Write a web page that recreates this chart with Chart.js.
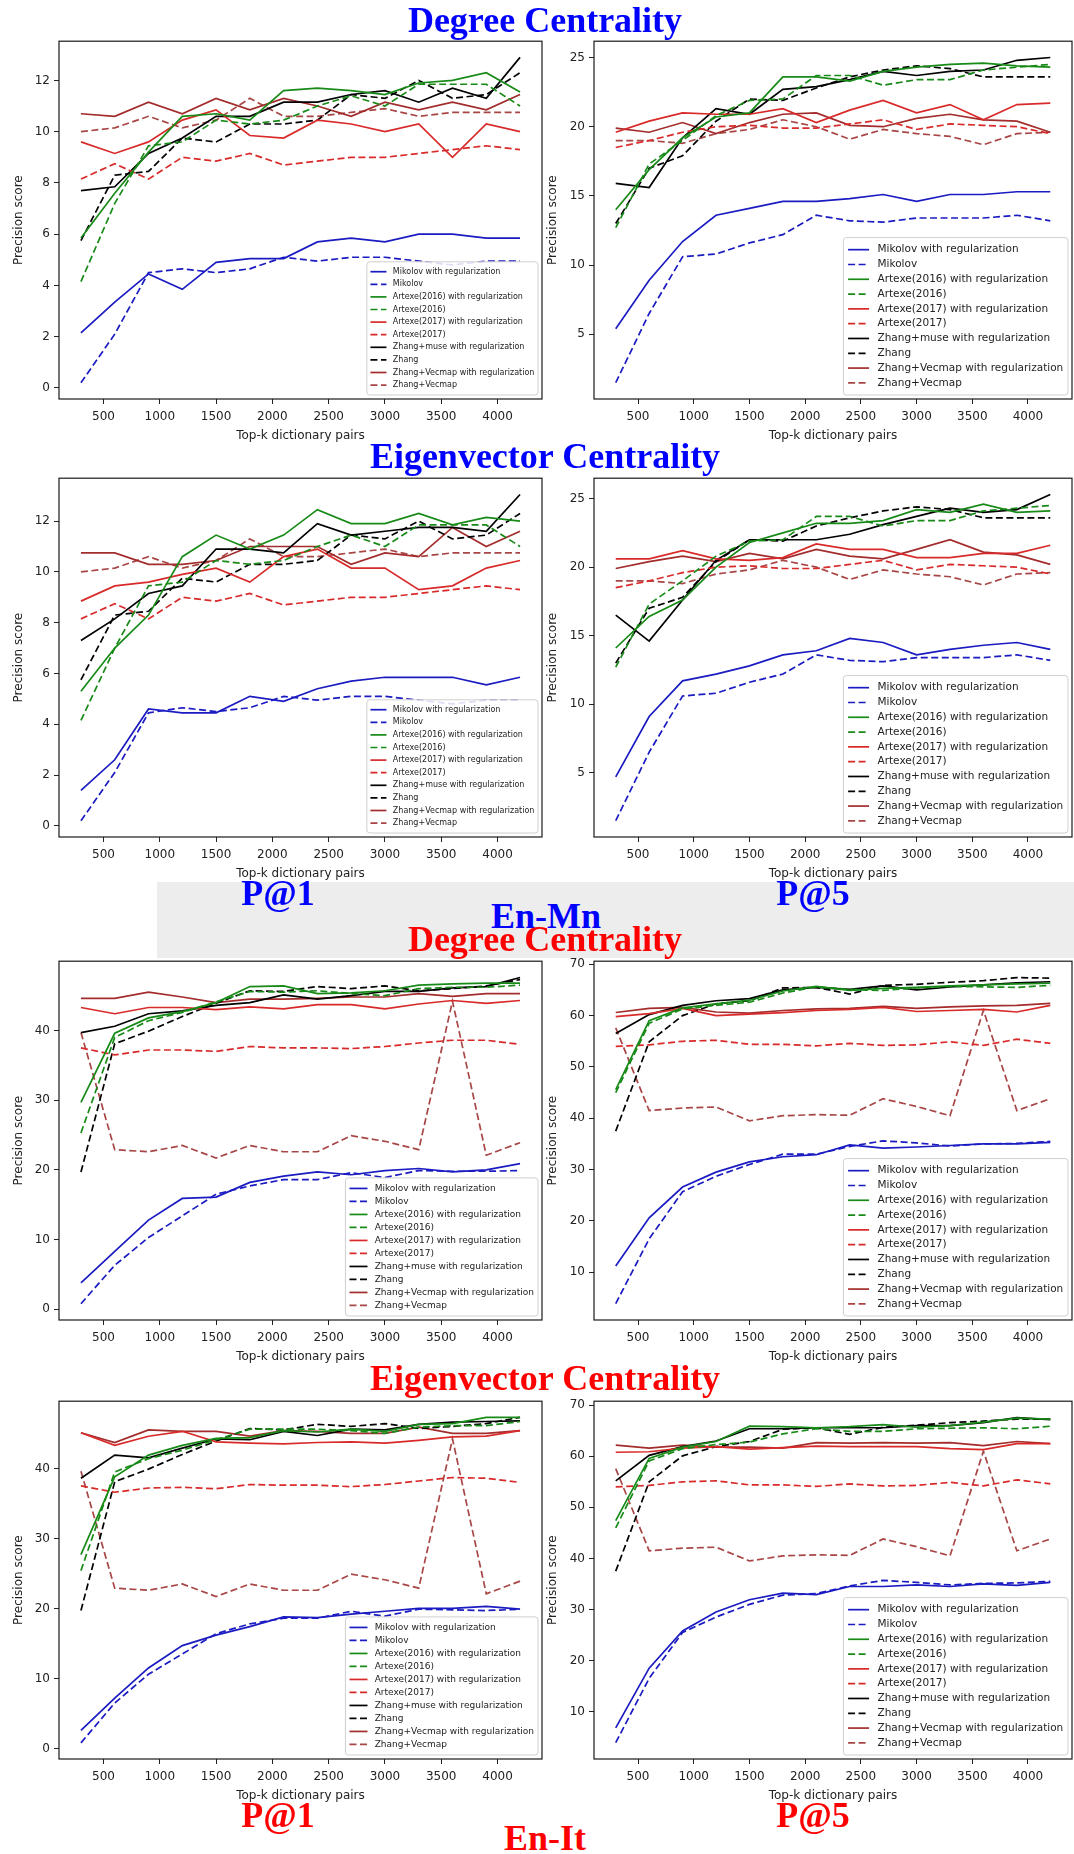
<!DOCTYPE html>
<html>
<head>
<meta charset="utf-8">
<script src="https://cdn.jsdelivr.net/npm/chart.js@4.4.0/dist/chart.umd.min.js"></script>
<style>
body { margin: 0; background: #fff; width: 1074px; height: 1854px; position: relative; overflow: hidden; }
canvas { position: absolute; z-index: 1; }
.ttl { position: absolute; z-index: 2; font-family: "Liberation Serif", serif; font-weight: bold; font-size: 36px;
       line-height: 36px; white-space: nowrap; transform: translateX(-50%); }
.blue { color: #0000ff; }
.red { color: #ff0000; }
.wm { position: absolute; z-index: 0; background: #ededed; }
</style>
</head>
<body>
<div class="wm" style="left:157px;top:882px;width:917px;height:76px"></div>

<div class="ttl blue" style="left:545px;top:2px">Degree Centrality</div>
<div class="ttl blue" style="left:545px;top:438px">Eigenvector Centrality</div>
<div class="ttl blue" style="left:278px;top:875px">P@1</div>
<div class="ttl blue" style="left:813px;top:875px">P@5</div>
<div class="ttl blue" style="left:546px;top:898px">En-Mn</div>
<div class="ttl red" style="left:545px;top:921px">Degree Centrality</div>
<div class="ttl red" style="left:545px;top:1360px">Eigenvector Centrality</div>
<div class="ttl red" style="left:278px;top:1797px">P@1</div>
<div class="ttl red" style="left:813px;top:1797px">P@5</div>
<div class="ttl red" style="left:545px;top:1820px">En-It</div>

<canvas id="c1" width="545" height="414" style="left:0;top:30px"></canvas>
<canvas id="c2" width="537" height="414" style="left:537px;top:30px"></canvas>
<canvas id="c3" width="545" height="415" style="left:0;top:467px"></canvas>
<canvas id="c4" width="537" height="415" style="left:537px;top:467px"></canvas>
<canvas id="c5" width="545" height="415" style="left:0;top:950px"></canvas>
<canvas id="c6" width="537" height="415" style="left:537px;top:950px"></canvas>
<canvas id="c7" width="545" height="414" style="left:0;top:1390px"></canvas>
<canvas id="c8" width="537" height="414" style="left:537px;top:1390px"></canvas>

<script>
// x values: top-k dictionary pairs
let topK = [300, 600, 900, 1200, 1500, 1800, 2100, 2400, 2700, 3000, 3300, 3600, 3900, 4200];
let xTicks = [500, 1000, 1500, 2000, 2500, 3000, 3500, 4000];
let yTicksP1Mn = [0, 2, 4, 6, 8, 10, 12];
let yTicksP5Mn = [5, 10, 15, 20, 25];
let yTicksP1It = [0, 10, 20, 30, 40];
let yTicksP5It = [10, 20, 30, 40, 50, 60, 70];

let seriesNames = ['Mikolov with regularization', 'Mikolov',
    'Artexe(2016) with regularization', 'Artexe(2016)',
    'Artexe(2017) with regularization', 'Artexe(2017)',
    'Zhang+muse with regularization', 'Zhang',
    'Zhang+Vecmap with regularization', 'Zhang+Vecmap'];
let seriesColors = ['#1b1bc2', '#1b1bc2', '#178a17', '#178a17', '#d92a2a', '#d92a2a',
    '#000000', '#000000', '#a32c2c', '#a84646'];
let seriesDashed = [false, true, false, true, false, true, false, true, false, true];

// rows follow seriesNames order
// En-Mn, degree centrality
let mnDegreeP1 = [
    [2.15, 3.35, 4.45, 3.85, 4.9, 5.05, 5.05, 5.7, 5.85, 5.7, 6.0, 6.0, 5.85, 5.85],
    [0.2, 2.1, 4.5, 4.65, 4.5, 4.65, 5.1, 4.95, 5.1, 5.1, 4.95, 4.8, 4.95, 4.95],
    [5.85, 7.6, 9.2, 10.6, 10.7, 10.45, 11.6, 11.7, 11.6, 11.45, 11.9, 12.0, 12.3, 11.55],
    [4.15, 7.2, 9.45, 9.6, 10.45, 10.3, 10.45, 11.0, 11.4, 11.0, 11.85, 11.85, 11.85, 11.0],
    [9.6, 9.15, 9.6, 10.45, 10.85, 9.85, 9.75, 10.45, 10.3, 10.0, 10.3, 9.0, 10.3, 10.0],
    [8.15, 8.75, 8.15, 9.0, 8.85, 9.15, 8.7, 8.85, 9.0, 9.0, 9.15, 9.3, 9.45, 9.3],
    [7.7, 7.85, 9.15, 9.75, 10.6, 10.6, 11.15, 11.15, 11.45, 11.6, 11.15, 11.7, 11.3, 12.9],
    [5.75, 8.3, 8.45, 9.75, 9.6, 10.3, 10.3, 10.45, 11.45, 11.3, 12.0, 11.3, 11.45, 12.3],
    [10.7, 10.6, 11.15, 10.7, 11.3, 10.85, 11.3, 11.0, 10.6, 11.15, 10.85, 11.15, 10.85, 11.45],
    [10.0, 10.15, 10.6, 10.15, 10.45, 11.3, 10.6, 10.6, 10.75, 10.9, 10.6, 10.75, 10.75, 10.75]
];
let mnDegreeP5 = [
    [5.4, 8.9, 11.7, 13.6, 14.1, 14.6, 14.6, 14.8, 15.1, 14.6, 15.1, 15.1, 15.3, 15.3],
    [1.5, 6.5, 10.6, 10.8, 11.6, 12.2, 13.6, 13.2, 13.1, 13.4, 13.4, 13.4, 13.6, 13.2],
    [14.0, 16.9, 19.2, 20.7, 21.0, 23.6, 23.6, 23.3, 24.0, 24.3, 24.5, 24.6, 24.4, 24.3],
    [12.7, 17.3, 19.0, 20.8, 21.9, 22.0, 23.7, 23.7, 23.0, 23.4, 23.4, 24.1, 24.3, 24.5],
    [19.6, 20.4, 21.0, 20.9, 20.9, 21.3, 20.3, 21.2, 21.9, 21.0, 21.6, 20.5, 21.6, 21.7],
    [18.5, 19.0, 19.6, 20.0, 20.1, 19.9, 19.9, 20.2, 20.5, 19.8, 20.2, 20.1, 20.0, 19.5],
    [15.9, 15.6, 19.2, 21.3, 20.9, 22.7, 22.9, 23.4, 24.0, 23.7, 24.0, 24.1, 24.8, 25.0],
    [13.0, 17.0, 17.9, 20.4, 22.0, 21.9, 22.8, 23.6, 24.1, 24.4, 24.2, 23.6, 23.6, 23.6],
    [19.9, 19.6, 20.3, 19.5, 20.3, 20.9, 21.0, 20.1, 20.0, 20.6, 20.9, 20.5, 20.4, 19.6],
    [19.0, 19.0, 18.8, 19.5, 19.8, 20.5, 20.0, 19.1, 19.8, 19.5, 19.3, 18.7, 19.5, 19.6]
];
// En-Mn, eigenvector centrality
let mnEigenP1 = [
    [1.4, 2.6, 4.6, 4.45, 4.45, 5.1, 4.9, 5.4, 5.7, 5.85, 5.85, 5.85, 5.55, 5.85],
    [0.2, 2.1, 4.45, 4.65, 4.5, 4.65, 5.1, 4.95, 5.1, 5.1, 4.95, 4.8, 4.95, 4.95],
    [5.3, 7.0, 8.3, 10.6, 11.45, 10.9, 11.45, 12.45, 11.9, 11.9, 12.3, 11.85, 12.15, 12.0],
    [4.15, 7.0, 9.45, 9.6, 10.45, 10.3, 10.45, 11.0, 11.45, 11.0, 11.85, 11.85, 11.85, 11.0],
    [8.85, 9.45, 9.6, 9.9, 10.15, 9.6, 10.6, 10.9, 10.15, 10.15, 9.3, 9.45, 10.15, 10.45],
    [8.15, 8.75, 8.15, 9.0, 8.85, 9.15, 8.7, 8.85, 9.0, 9.0, 9.15, 9.3, 9.45, 9.3],
    [7.3, 8.15, 9.15, 9.45, 10.9, 10.9, 10.75, 11.9, 11.45, 11.6, 11.75, 11.75, 11.6, 13.05],
    [5.75, 8.3, 8.45, 9.75, 9.6, 10.3, 10.3, 10.45, 11.45, 11.3, 12.0, 11.3, 11.45, 12.3],
    [10.75, 10.75, 10.3, 10.3, 10.45, 11.0, 11.0, 11.0, 10.3, 10.75, 10.6, 11.75, 11.0, 11.6],
    [10.0, 10.15, 10.6, 10.15, 10.45, 11.3, 10.6, 10.6, 10.75, 10.9, 10.6, 10.75, 10.75, 10.75]
];
let mnEigenP5 = [
    [4.7, 9.1, 11.7, 12.2, 12.8, 13.6, 13.9, 14.8, 14.5, 13.6, 14.0, 14.3, 14.5, 14.0],
    [1.5, 6.5, 10.6, 10.8, 11.6, 12.2, 13.6, 13.2, 13.1, 13.4, 13.4, 13.4, 13.6, 13.2],
    [14.1, 16.4, 17.6, 20.0, 21.8, 22.5, 23.2, 23.2, 23.4, 24.2, 24.0, 24.6, 24.0, 24.1],
    [12.7, 17.3, 19.0, 20.8, 21.9, 22.0, 23.7, 23.7, 23.0, 23.4, 23.4, 24.1, 24.3, 24.5],
    [20.6, 20.6, 21.2, 20.6, 20.5, 20.7, 21.7, 21.3, 21.3, 20.7, 20.7, 21.0, 21.0, 21.6],
    [18.5, 19.0, 19.6, 20.0, 20.1, 19.9, 19.9, 20.2, 20.5, 19.8, 20.2, 20.1, 20.0, 19.5],
    [16.5, 14.6, 17.6, 20.5, 22.0, 22.0, 22.0, 22.4, 23.1, 23.7, 24.3, 24.0, 24.2, 25.3],
    [13.0, 17.0, 17.8, 20.4, 22.0, 21.9, 23.0, 23.6, 24.1, 24.4, 24.2, 23.6, 23.6, 23.6],
    [19.9, 20.4, 20.8, 20.4, 21.0, 20.6, 21.3, 20.8, 20.6, 21.3, 22.0, 21.1, 20.9, 20.2],
    [19.0, 19.0, 18.8, 19.5, 19.8, 20.5, 20.0, 19.1, 19.8, 19.5, 19.3, 18.7, 19.5, 19.6]
];
// En-It, degree centrality
let itDegreeP1 = [
    [3.8, 8.3, 12.8, 15.9, 16.1, 18.2, 19.1, 19.7, 19.3, 19.9, 20.2, 19.7, 20.0, 20.9],
    [0.8, 6.3, 10.3, 13.4, 16.5, 17.7, 18.6, 18.6, 19.6, 18.9, 19.9, 19.8, 19.8, 19.9],
    [29.7, 39.6, 41.8, 42.7, 44.0, 46.3, 46.4, 45.3, 45.4, 45.7, 46.5, 46.7, 46.8, 46.8],
    [25.3, 39.0, 41.4, 42.6, 44.1, 45.6, 45.5, 45.7, 45.3, 45.0, 46.0, 46.2, 46.2, 46.5],
    [43.3, 42.4, 43.3, 43.3, 43.0, 43.4, 43.1, 43.7, 43.7, 43.1, 43.8, 44.3, 43.9, 44.3],
    [37.5, 36.5, 37.2, 37.2, 37.0, 37.7, 37.5, 37.5, 37.4, 37.7, 38.2, 38.6, 38.6, 38.0],
    [39.7, 40.6, 42.4, 42.8, 43.6, 44.0, 45.1, 44.5, 45.0, 45.6, 45.6, 46.1, 46.3, 47.6],
    [19.7, 38.1, 39.9, 42.0, 43.9, 45.7, 45.6, 46.3, 46.0, 46.4, 45.7, 46.0, 46.4, 47.3],
    [44.6, 44.6, 45.5, 44.8, 44.0, 44.5, 44.5, 44.6, 44.8, 44.8, 45.3, 44.9, 45.3, 45.3],
    [39.7, 22.9, 22.6, 23.5, 21.7, 23.5, 22.6, 22.6, 24.9, 24.1, 22.9, 44.2, 22.1, 23.9]
];
let itDegreeP5 = [
    [11.2, 20.6, 26.6, 29.5, 31.5, 32.5, 32.9, 34.8, 34.2, 34.4, 34.7, 35.0, 35.0, 35.3],
    [3.9, 16.5, 25.7, 28.7, 31.0, 33.0, 33.0, 34.5, 35.6, 35.2, 34.6, 35.0, 35.1, 35.5],
    [45.6, 59.0, 61.5, 62.3, 63.0, 64.8, 65.7, 64.9, 65.3, 65.5, 65.8, 66.0, 66.2, 66.3],
    [45.0, 58.5, 61.3, 62.0, 62.6, 64.4, 65.6, 65.1, 64.9, 65.4, 65.7, 65.6, 65.5, 65.9],
    [59.8, 60.4, 61.4, 60.0, 60.3, 60.6, 61.0, 61.2, 61.6, 60.8, 61.0, 61.2, 60.7, 62.0],
    [54.0, 54.3, 55.0, 55.2, 54.4, 54.4, 54.1, 54.6, 54.2, 54.3, 54.9, 54.2, 55.4, 54.6],
    [56.5, 60.2, 62.0, 62.9, 63.3, 65.0, 65.5, 65.1, 65.8, 65.0, 65.6, 66.0, 66.4, 66.6],
    [37.5, 54.9, 60.0, 62.3, 62.9, 65.4, 65.5, 64.2, 65.9, 66.1, 66.5, 66.8, 67.4, 67.3],
    [60.6, 61.4, 61.6, 60.7, 60.5, 61.0, 61.3, 61.4, 61.8, 61.4, 61.7, 61.9, 62.0, 62.4],
    [57.6, 41.5, 42.0, 42.2, 39.5, 40.5, 40.7, 40.6, 43.8, 42.3, 40.5, 61.0, 41.5, 43.8]
];
// En-It, eigenvector centrality
let itEigenP1 = [
    [2.6, 7.2, 11.5, 14.7, 16.2, 17.4, 18.8, 18.7, 19.2, 19.6, 20.0, 20.0, 20.3, 19.9],
    [0.8, 6.5, 10.6, 13.5, 16.4, 17.8, 18.6, 18.6, 19.6, 18.9, 19.9, 19.8, 19.7, 19.9],
    [27.7, 38.8, 41.9, 43.3, 44.3, 44.4, 45.4, 45.2, 45.6, 45.3, 46.3, 46.4, 47.3, 47.3],
    [25.4, 39.5, 41.4, 42.6, 44.1, 45.6, 45.6, 45.6, 45.4, 45.0, 45.9, 46.1, 46.1, 46.7],
    [45.1, 43.3, 44.6, 45.3, 43.8, 43.6, 43.5, 43.7, 43.8, 43.6, 44.0, 44.5, 44.6, 45.4],
    [37.5, 36.6, 37.2, 37.3, 37.1, 37.7, 37.6, 37.6, 37.4, 37.7, 38.2, 38.7, 38.6, 38.0],
    [38.6, 41.9, 41.5, 42.9, 44.2, 44.1, 45.3, 44.7, 45.6, 45.5, 46.3, 46.6, 46.7, 46.8],
    [19.7, 38.1, 39.9, 42.0, 43.9, 45.7, 45.5, 46.3, 46.0, 46.4, 45.7, 46.0, 46.4, 47.3],
    [45.1, 43.7, 45.5, 45.3, 45.3, 44.6, 45.4, 45.3, 45.0, 45.0, 45.9, 45.0, 45.0, 45.4],
    [39.6, 22.9, 22.6, 23.5, 21.7, 23.5, 22.6, 22.6, 24.9, 24.1, 22.9, 44.2, 22.1, 23.9]
];
let itEigenP5 = [
    [6.8, 18.5, 25.8, 29.5, 31.9, 33.2, 32.9, 34.5, 34.5, 34.8, 34.5, 35.0, 34.7, 35.3],
    [3.9, 16.5, 25.5, 28.5, 31.0, 32.8, 33.1, 34.6, 35.7, 35.3, 34.8, 35.1, 35.2, 35.5],
    [47.4, 59.6, 61.8, 62.9, 65.9, 65.8, 65.6, 65.8, 66.2, 65.7, 66.0, 66.7, 67.5, 67.3],
    [46.0, 59.1, 61.5, 62.3, 62.8, 64.4, 65.4, 64.9, 64.9, 65.4, 65.5, 65.6, 65.4, 65.9],
    [60.8, 60.9, 61.6, 61.9, 61.4, 61.7, 62.0, 61.9, 61.9, 61.9, 61.5, 61.3, 62.5, 62.5],
    [54.0, 54.3, 55.0, 55.2, 54.4, 54.4, 54.1, 54.6, 54.2, 54.3, 54.9, 54.2, 55.4, 54.6],
    [55.2, 60.2, 61.9, 63.0, 65.4, 65.4, 65.6, 65.6, 65.6, 66.0, 66.0, 66.6, 67.6, 67.2],
    [37.5, 55.0, 60.1, 61.9, 62.9, 65.3, 65.6, 64.3, 65.7, 66.1, 66.6, 66.9, 67.3, 67.3],
    [62.2, 61.6, 62.2, 61.8, 61.8, 61.6, 62.7, 62.6, 62.7, 62.6, 62.7, 62.1, 62.9, 62.5],
    [57.6, 41.5, 42.0, 42.2, 39.5, 40.5, 40.7, 40.6, 43.8, 42.3, 40.5, 61.0, 41.5, 43.8]
];

// frame around the plot area + matplotlib style legend box in the lower right corner
let boxLegend = {
    id: 'boxLegend',
    afterDatasetsDraw(chart, args, opts) {
        let ctx = chart.ctx;
        let a = chart.chartArea;
        ctx.save();
        ctx.strokeStyle = '#1a1a1a';
        ctx.lineWidth = 1.2;
        ctx.strokeRect(a.left, a.top, a.right - a.left, a.bottom - a.top);

        let fs = opts.fontSize;
        ctx.font = fs + 'px "DejaVu Sans"';
        let sets = chart.data.datasets;
        let textW = Math.max(...sets.map(d => ctx.measureText(d.label).width));
        let handle = 2 * fs, gap = 0.8 * fs, pad = 0.45 * fs;
        let w = pad + handle + gap + textW + pad;
        let h = opts.rowH * sets.length + 2 * pad;
        let x0 = a.right - 4 - w, y0 = a.bottom - 4 - h;
        ctx.fillStyle = 'rgba(255,255,255,0.85)';
        ctx.strokeStyle = '#cfcfcf';
        ctx.lineWidth = 1;
        ctx.beginPath();
        ctx.roundRect(x0, y0, w, h, 3);
        ctx.fill();
        ctx.stroke();
        sets.forEach((d, i) => {
            let cy = y0 + pad + opts.rowH * (i + 0.5);
            ctx.strokeStyle = d.borderColor;
            ctx.lineWidth = d.borderWidth;
            ctx.setLineDash(d.borderDash);
            ctx.beginPath();
            ctx.moveTo(x0 + pad, cy);
            ctx.lineTo(x0 + pad + handle, cy);
            ctx.stroke();
            ctx.setLineDash([]);
            ctx.fillStyle = '#222';
            ctx.textBaseline = 'middle';
            ctx.textAlign = 'left';
            ctx.fillText(d.label, x0 + pad + handle + gap, cy);
        });
        ctx.restore();
    }
};

let tickFont = {family: 'DejaVu Sans', size: 12};

function makeChart(id, rows, yMin, yMax, yTicks, isRight, legendFont, legendRow) {
    let ctx = document.getElementById(id).getContext('2d');
    return new Chart(ctx, {
        type: 'line',
        data: {
            datasets: rows.map((vals, i) => ({
                label: seriesNames[i],
                data: topK.map((k, j) => ({x: k, y: vals[j]})),
                borderColor: seriesColors[i],
                borderWidth: 1.7,
                borderDash: seriesDashed[i] ? [7, 3.5] : [],
                pointRadius: 0,
                tension: 0,
                fill: false
            }))
        },
        options: {
            responsive: false,
            animation: false,
            layout: {padding: {left: 0, right: isRight ? 2 : 3, top: 10, bottom: 0}},
            plugins: {
                legend: {display: false},
                tooltip: {enabled: false},
                boxLegend: {fontSize: legendFont, rowH: legendRow}
            },
            scales: {
                x: {
                    type: 'linear',
                    min: 105,
                    max: 4395,
                    afterBuildTicks: s => { s.ticks = xTicks.map(v => ({value: v})); },
                    afterFit: s => { s.height = 45; },
                    grid: {display: true, drawOnChartArea: false, tickLength: 5, tickColor: '#222'},
                    border: {display: false},
                    ticks: {autoSkip: false, maxRotation: 0, padding: 6, color: '#222', font: tickFont,
                        callback: v => String(v)},
                    title: {display: true, text: 'Top-k dictionary pairs', color: '#222', font: tickFont,
                        padding: {top: 0, bottom: 1}}
                },
                y: {
                    min: yMin,
                    max: yMax,
                    afterBuildTicks: s => { s.ticks = yTicks.map(v => ({value: v})); },
                    afterFit: s => { s.width = isRight ? 57 : 59; },
                    grid: {display: true, drawOnChartArea: false, tickLength: 5, tickColor: '#222'},
                    border: {display: false},
                    ticks: {autoSkip: false, padding: 4, color: '#222', font: tickFont, callback: v => String(v)},
                    title: {display: true, text: 'Precision score', color: '#222', font: tickFont,
                        padding: {top: isRight ? 9 : 12, bottom: 0}}
                }
            }
        },
        plugins: [boxLegend]
    });
}

makeChart('c1', mnDegreeP1, -0.43, 13.53, yTicksP1Mn, false, 8, 12.6);
makeChart('c2', mnDegreeP5, 0.32, 26.18, yTicksP5Mn, true, 10.5, 14.8);
makeChart('c3', mnEigenP1, -0.44, 13.69, yTicksP1Mn, false, 8, 12.6);
makeChart('c4', mnEigenP5, 0.31, 26.49, yTicksP5Mn, true, 10.5, 14.8);
makeChart('c5', itDegreeP1, -1.54, 49.94, yTicksP1It, false, 9, 13.0);
makeChart('c6', itDegreeP5, 0.7, 70.6, yTicksP5It, true, 10.5, 14.8);
makeChart('c7', itEigenP1, -1.5, 49.6, yTicksP1It, false, 9, 13.0);
makeChart('c8', itEigenP5, 0.7, 70.8, yTicksP5It, true, 10.5, 14.8);
</script>
</body>
</html>
